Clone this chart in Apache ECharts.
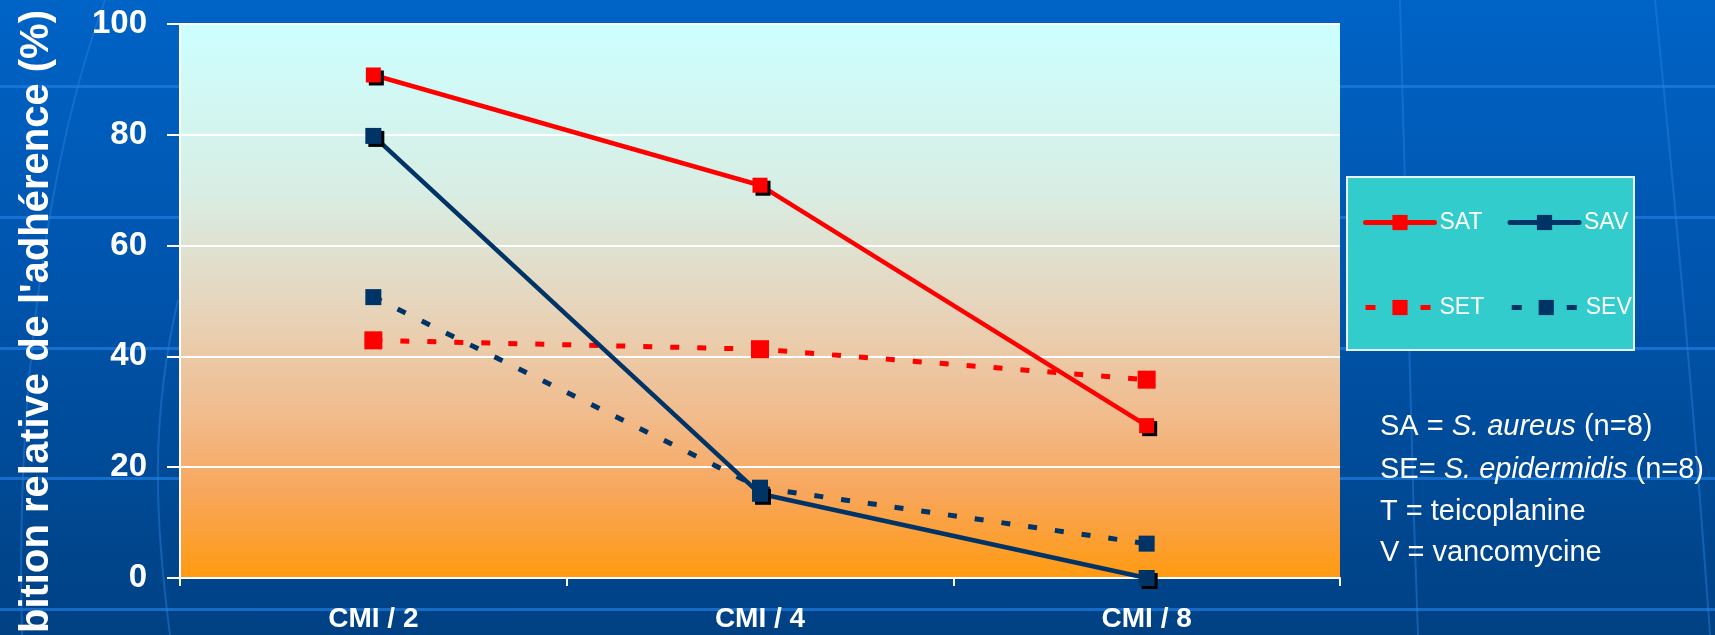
<!DOCTYPE html>
<html>
<head>
<meta charset="utf-8">
<script src="https://cdn.jsdelivr.net/npm/echarts@6/dist/echarts.min.js"></script>
<style>
html,body{margin:0;padding:0;}
#main{
  width:1715px;height:635px;
  background:
    linear-gradient(to bottom,
      transparent 85px, rgba(30,125,225,.7) 85px, rgba(30,125,225,.7) 88px, transparent 88px,
      transparent 216px, rgba(30,125,225,.7) 216px, rgba(30,125,225,.7) 219px, transparent 219px,
      transparent 347px, rgba(30,125,225,.7) 347px, rgba(30,125,225,.7) 350px, transparent 350px,
      transparent 477px, rgba(30,125,225,.7) 477px, rgba(30,125,225,.7) 480px, transparent 480px,
      transparent 608px, rgba(30,125,225,.7) 608px, rgba(30,125,225,.7) 611px, transparent 611px),
    linear-gradient(to bottom,#0063C6 0%,#0054AC 45%,#004183 100%);
}
</style>
</head>
<body>
<div id="main"></div>
<script>
// categories and values
const categories = ['CMI / 2', 'CMI / 4', 'CMI / 8'];
const satValues = [90.8, 70.9, 27.5];
const savValues = [79.8, 15.2, 0];
const setValues = [42.9, 41.3, 35.8];
const sevValues = [50.7, 16.3, 6.2];
const yTicks = [0, 20, 40, 60, 80, 100];

const RED = '#FF0000';
const NAVY = '#003366';
const FONT = '"Liberation Sans", Arial, sans-serif';

const chart = echarts.init(document.getElementById('main'));

const shadow = { shadowColor: '#000', shadowBlur: 0, shadowOffsetX: 3, shadowOffsetY: 3 };
const noShadow = { shadowColor: 'rgba(0,0,0,0)', shadowBlur: 0, shadowOffsetX: 0, shadowOffsetY: 0 };

const legendBase = {
  padding: 0,
  itemWidth: 69,
  itemHeight: 19,
  itemGap: 25,
  textStyle: { color: '#fff', fontSize: 23, fontFamily: FONT },
  itemStyle: noShadow,
  selectedMode: false
};

// faint curved lines of the slide template (pure decoration)
const decoCurves = [
  [105, 0, 50, 150, 15, 380, 22, 635],
  [178, 300, 150, 420, 155, 520, 170, 635],
  [1400, 0, 1405, 200, 1410, 420, 1418, 635],
  [1655, 0, 1675, 200, 1695, 420, 1710, 635]
].map(c => ({
  type: 'bezierCurve', z: -1, silent: true,
  shape: { x1: c[0], y1: c[1], cpx1: c[2], cpy1: c[3], cpx2: c[4], cpy2: c[5], x2: c[6], y2: c[7] },
  style: { stroke: 'rgba(40,130,225,0.45)', lineWidth: 2, fill: null }
}));

const option = {
  animation: false,
  grid: {
    left: 180, right: 375, top: 24, bottom: 57,
    show: true, borderWidth: 0,
    backgroundColor: {
      type: 'linear', x: 0, y: 0, x2: 0, y2: 1,
      colorStops: [
        { offset: 0, color: '#CCFFFF' },
        { offset: 0.3, color: '#D8EEE4' },
        { offset: 0.5, color: '#E6D6BE' },
        { offset: 0.7, color: '#F1BC8E' },
        { offset: 0.85, color: '#F8A65A' },
        { offset: 1, color: '#FF9A10' }
      ]
    }
  },
  legend: [
    Object.assign({ left: 1363, top: 211, data: ['SAT', 'SAV'],
      lineStyle: { width: 5, cap: 'round' } }, legendBase),
    Object.assign({ left: 1363, top: 296, data: ['SET', 'SEV'],
      lineStyle: { width: 5, type: [10, 17.5] } }, legendBase)
  ],
  xAxis: {
    type: 'category',
    data: categories,
    boundaryGap: true,
    axisLine: { lineStyle: { color: '#fff', width: 2 } },
    axisTick: { show: true, length: 8, lineStyle: { color: '#fff', width: 2 } },
    axisLabel: { color: '#fff', fontSize: 28, fontWeight: 'bold', fontFamily: FONT, margin: 27 }
  },
  yAxis: {
    type: 'value',
    min: yTicks[0],
    max: yTicks[yTicks.length - 1],
    interval: yTicks[1] - yTicks[0],
    axisLine: { show: true, lineStyle: { color: '#fff', width: 2 } },
    axisTick: { show: true, length: 13, lineStyle: { color: '#fff', width: 2 } },
    axisLabel: { color: '#fff', fontSize: 33, fontWeight: 'bold', fontFamily: FONT, margin: 33 },
    splitLine: { lineStyle: { color: '#fff', width: 2 } }
  },
  series: [
    {
      name: 'SET', type: 'line', data: setValues,
      symbol: 'rect', symbolSize: 18,
      lineStyle: { color: RED, width: 5, type: [9, 18] },
      itemStyle: Object.assign({ color: RED }, noShadow)
    },
    {
      name: 'SEV', type: 'line', data: sevValues,
      symbol: 'rect', symbolSize: 16,
      lineStyle: { color: NAVY, width: 5, type: [9, 18] },
      itemStyle: Object.assign({ color: NAVY }, noShadow)
    },
    {
      name: 'SAT', type: 'line', data: satValues,
      symbol: 'rect', symbolSize: 15,
      lineStyle: { color: RED, width: 4.5 },
      itemStyle: Object.assign({ color: RED }, shadow)
    },
    {
      name: 'SAV', type: 'line', data: savValues,
      symbol: 'rect', symbolSize: 16,
      lineStyle: { color: NAVY, width: 4.5 },
      itemStyle: Object.assign({ color: NAVY }, shadow)
    }
  ],
  graphic: decoCurves.concat([
    // legend box
    {
      type: 'rect', z: 1,
      shape: { x: 1347, y: 177, width: 287, height: 173 },
      style: { fill: '#33CCCC', stroke: '#E6F4F4', lineWidth: 2 }
    },
    // y axis title (cut at the bottom like the slide)
    {
      type: 'text', x: 37, y: 10, rotation: Math.PI / 2,
      style: {
        text: "Inhibition relative de l'adhérence (%)",
        fill: '#fff', font: 'bold 40px ' + FONT,
        align: 'right', verticalAlign: 'middle'
      }
    },
    // notes
    {
      type: 'text', x: 1380, y: 427,
      style: {
        text: '{n|SA = }{i|S. aureus}{n| (n=8)}', verticalAlign: 'middle',
        rich: {
          n: { fill: '#fff', fontSize: 29, fontFamily: FONT },
          i: { fill: '#fff', fontSize: 29, fontFamily: FONT, fontStyle: 'italic' }
        }
      }
    },
    {
      type: 'text', x: 1380, y: 470,
      style: {
        text: '{n|SE= }{i|S. epidermidis}{n| (n=8)}', verticalAlign: 'middle',
        rich: {
          n: { fill: '#fff', fontSize: 29, fontFamily: FONT },
          i: { fill: '#fff', fontSize: 29, fontFamily: FONT, fontStyle: 'italic' }
        }
      }
    },
    {
      type: 'text', x: 1380, y: 512,
      style: { text: 'T = teicoplanine', fill: '#fff', font: '29px ' + FONT, verticalAlign: 'middle' }
    },
    {
      type: 'text', x: 1380, y: 553,
      style: { text: 'V = vancomycine', fill: '#fff', font: '29px ' + FONT, verticalAlign: 'middle' }
    }
  ])
};

chart.setOption(option);
</script>
</body>
</html>
